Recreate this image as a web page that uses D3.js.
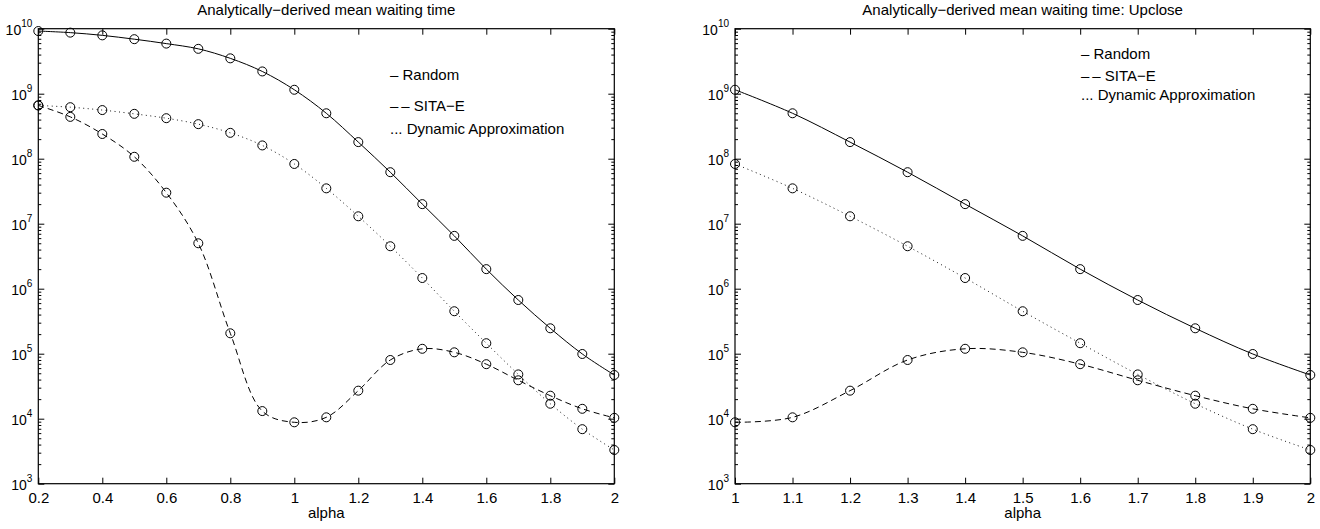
<!DOCTYPE html>
<html>
<head>
<meta charset="utf-8">
<script src="https://cdn.jsdelivr.net/npm/d3@7"></script>
<style>
  body { margin: 0; background: #fff; }
  svg { display: block; }
  text { font-family: "Liberation Sans", Arial, Helvetica, sans-serif; fill: #000; }
</style>
</head>
<body>
<div id="chart"></div>
<script>
// data
var alphas = [0.2, 0.3, 0.4, 0.5, 0.6, 0.7, 0.8, 0.9, 1.0, 1.1, 1.2, 1.3, 1.4, 1.5, 1.6, 1.7, 1.8, 1.9, 2.0];
var randomWait = [9.2e9, 8.7e9, 7.9e9, 6.9e9, 5.9e9, 4.9e9, 3.5e9, 2.2e9, 1.15e9, 5.0e8, 1.8e8, 6.2e7, 2.0e7, 6.5e6, 2.0e6, 6.7e5, 2.46e5, 9.9e4, 4.7e4];
var sitaWait = [6.6e8, 4.4e8, 2.4e8, 1.07e8, 3.0e7, 5.0e6, 2.06e5, 1.31e4, 8.8e3, 1.05e4, 2.7e4, 8.0e4, 1.19e5, 1.05e5, 6.9e4, 3.9e4, 2.26e4, 1.42e4, 1.03e4];
var dynamicWait = [6.6e8, 6.2e8, 5.6e8, 4.9e8, 4.2e8, 3.4e8, 2.5e8, 1.6e8, 8.3e7, 3.5e7, 1.3e7, 4.5e6, 1.46e6, 4.5e5, 1.45e5, 4.8e4, 1.7e4, 6.9e3, 3.3e3];

var xTicksFull = [0.2, 0.4, 0.6, 0.8, 1, 1.2, 1.4, 1.6, 1.8, 2];
var xTicksClose = [1, 1.1, 1.2, 1.3, 1.4, 1.5, 1.6, 1.7, 1.8, 1.9, 2];
var yExponents = [3, 4, 5, 6, 7, 8, 9, 10];
var legendLabels = ["\u2013 Random", "\u2013\u2009\u2013 SITA\u2212E", "... Dynamic Approximation"];

var svgWidth = 1320, svgHeight = 529;
var svg = d3.select("#chart").append("svg")
    .attr("width", svgWidth)
    .attr("height", svgHeight);

// plot box top / bottom (10^10 and 10^3)
var plotTop = 28.7, plotBottom = 483.7;

var seriesStyle = [
    { values: randomWait, dash: null, width: 1 },
    { values: sitaWait, dash: "6,4", width: 1 },
    { values: dynamicWait, dash: "1,3.5", width: 0.9 }
];

function drawPanel(opt) {
    var g = svg.append("g");
    var x = d3.scaleLinear().domain(opt.xDomain).range([opt.left, opt.right]);
    var y = d3.scaleLog().domain([1e3, 1e10]).range([plotBottom, plotTop]);

    // minor log ticks 2..9 in each decade
    var minors = [];
    yExponents.slice(0, -1).forEach(function (e) {
        for (var k = 2; k <= 9; k++) minors.push(k * Math.pow(10, e));
    });
    var majors = yExponents.map(function (e) { return Math.pow(10, e); });

    g.append("g")
        .attr("transform", `translate(${opt.left},0)`)
        .call(d3.axisLeft(y).tickValues(minors).tickSizeInner(-3).tickSizeOuter(0).tickFormat(""))
        .call(s => s.select(".domain").remove());
    g.append("g")
        .attr("transform", `translate(${opt.right},0)`)
        .call(d3.axisRight(y).tickValues(minors).tickSizeInner(-3).tickSizeOuter(0).tickFormat(""))
        .call(s => s.select(".domain").remove());
    g.append("g")
        .attr("transform", `translate(${opt.left},0)`)
        .call(d3.axisLeft(y).tickValues(majors).tickSizeInner(-6).tickSizeOuter(0).tickFormat(""))
        .call(s => s.select(".domain").remove());
    g.append("g")
        .attr("transform", `translate(${opt.right},0)`)
        .call(d3.axisRight(y).tickValues(majors).tickSizeInner(-6).tickSizeOuter(0).tickFormat(""))
        .call(s => s.select(".domain").remove());

    // y labels 10^n
    var yl = g.append("g").selectAll("text")
        .data(yExponents)
        .enter()
        .append("text")
        .attr("x", opt.left - 6)
        .attr("y", d => y(Math.pow(10, d)) + 6)
        .attr("text-anchor", "end")
        .style("font-size", "14px");
    yl.append("tspan").text("10");
    yl.append("tspan").attr("dy", -8).style("font-size", "10px").text(d => d);

    // x axis bottom and top
    g.append("g")
        .attr("transform", `translate(0,${plotBottom})`)
        .call(d3.axisBottom(x).tickValues(opt.xTicks).tickSizeInner(-6).tickSizeOuter(0).tickPadding(9)
            .tickFormat(d3.format("~g")))
        .call(s => s.select(".domain").remove())
        .call(s => s.selectAll("text").style("font-size", "15px").attr("font-family", null));
    g.append("g")
        .attr("transform", `translate(0,${plotTop})`)
        .call(d3.axisTop(x).tickValues(opt.xTicks).tickSizeInner(-6).tickSizeOuter(0).tickFormat(""))
        .call(s => s.select(".domain").remove());

    // frame
    g.append("rect")
        .attr("x", opt.left)
        .attr("y", plotTop)
        .attr("width", opt.right - opt.left)
        .attr("height", plotBottom - plotTop)
        .attr("fill", "none")
        .attr("stroke", "#000")
        .attr("stroke-width", 1.2);

    // series
    var idx = alphas.map((a, i) => i).filter(i => alphas[i] >= opt.xDomain[0] - 1e-9);

    seriesStyle.forEach(function (s) {
        var ln = d3.line()
            .x(i => x(alphas[i]))
            .y(i => y(s.values[i]))
            .curve(d3.curveCatmullRom);
        g.append("path")
            .datum(idx)
            .attr("d", ln)
            .attr("fill", "none")
            .attr("stroke", "#000")
            .attr("stroke-width", s.width)
            .attr("stroke-dasharray", s.dash);
        g.append("g").selectAll("circle")
            .data(idx)
            .enter()
            .append("circle")
            .attr("cx", i => x(alphas[i]))
            .attr("cy", i => y(s.values[i]))
            .attr("r", 4.5)
            .attr("fill", "none")
            .attr("stroke", "#000")
            .attr("stroke-width", 1);
    });

    // title and x label
    var mid = (opt.left + opt.right) / 2;
    g.append("text")
        .attr("x", mid)
        .attr("y", 15)
        .attr("text-anchor", "middle")
        .style("font-size", "15px")
        .text(opt.title);
    g.append("text")
        .attr("x", mid)
        .attr("y", 518)
        .attr("text-anchor", "middle")
        .style("font-size", "15px")
        .text("alpha");

    // legend (plain text like the original)
    g.append("g").selectAll("text")
        .data(legendLabels)
        .enter()
        .append("text")
        .attr("x", opt.legendX)
        .attr("y", (d, i) => opt.legendY[i])
        .style("font-size", "15px")
        .text(d => d);
}

drawPanel({
    left: 38.3, right: 614.3,
    xDomain: [0.2, 2], xTicks: xTicksFull,
    title: "Analytically\u2212derived mean waiting time",
    legendX: 390, legendY: [79.5, 110.5, 133.5]
});

drawPanel({
    left: 735, right: 1310.3,
    xDomain: [1, 2], xTicks: xTicksClose,
    title: "Analytically\u2212derived mean waiting time: Upclose",
    legendX: 1081, legendY: [58.5, 80.5, 99.5]
});
</script>
</body>
</html>
